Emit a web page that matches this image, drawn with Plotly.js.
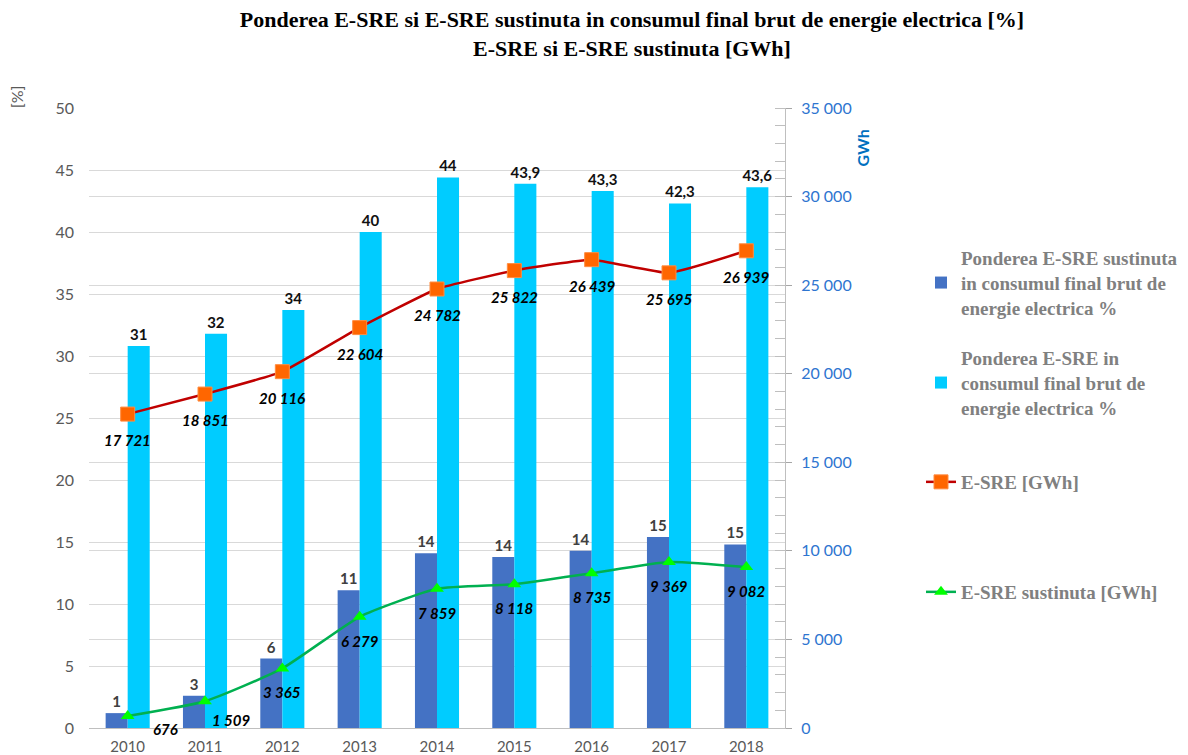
<!DOCTYPE html>
<html>
<head>
<meta charset="utf-8">
<script src="https://cdn.plot.ly/plotly-3.0.1.min.js"></script>
<style>html,body{margin:0;padding:0;background:#fff;}#chart{width:1188px;height:755px;}</style>
</head>
<body>
<div id="chart"></div>
<script>
const years = ['2010','2011','2012','2013','2014','2015','2016','2017','2018'];
const shareSupported = [1.2, 2.6, 5.6, 11.1, 14.1, 13.8, 14.3, 15.4, 14.8];
const shareTotal = [30.8, 31.8, 33.7, 40.0, 44.4, 43.9, 43.3, 42.3, 43.6];
const shareTotalLabels = ['31','32','34','40','44','43,9','43,3','42,3','43,6'];
const esreGWh = [17721, 18851, 20116, 22604, 24782, 25822, 26439, 25695, 26939];
const esreSupportedGWh = [676, 1509, 3365, 6279, 7859, 8118, 8735, 9369, 9082];

const fmt = v => String(v).replace(/\B(?=(\d{3})+(?!\d))/g, ' ');

const legFont = {family: 'Liberation Serif, Times New Roman, serif', size: 19, color: '#808080', weight: 'bold'};
const lineLblFont = {family: 'Lato, Calibri, sans-serif', size: 15, color: '#000', weight: 'bold', style: 'italic'};

const traces = [
  {
    type: 'bar', x: years, y: shareSupported, name: '<b>Ponderea E-SRE sustinuta<br>in consumul final brut de<br>energie electrica %</b>',
    marker: {color: '#4472C4'}, text: shareSupported.map(v => Math.round(v).toString()),
    textposition: 'outside', cliponaxis: false, constraintext: 'none',
    textfont: {family: 'Lato, Calibri, sans-serif', size: 15, color: '#404040', weight: 'bold'},
    legend: 'legend', hoverinfo: 'x+y'
  },
  {
    type: 'bar', x: years, y: shareTotal, name: '<b>Ponderea E-SRE in<br>consumul final brut de<br>energie electrica %</b>',
    marker: {color: '#00CCFF'}, text: shareTotalLabels,
    textposition: 'outside', cliponaxis: false, constraintext: 'none',
    textfont: {family: 'Lato, Calibri, sans-serif', size: 15, color: '#111', weight: 'bold'},
    legend: 'legend2', hoverinfo: 'x+y'
  },
  {
    type: 'scatter', mode: 'lines+markers', x: years, y: esreGWh, yaxis: 'y2',
    name: '<b>E-SRE [GWh]</b>',
    line: {color: '#C00000', width: 2.5, shape: 'spline', smoothing: 0.4},
    marker: {symbol: 'square', size: 14, color: '#FF6600', line: {color: '#FF8C40', width: 1}},
    cliponaxis: false, legend: 'legend3'
  },
  {
    type: 'scatter', mode: 'lines+markers', x: years, y: esreSupportedGWh, yaxis: 'y2',
    name: '<b>E-SRE sustinuta [GWh]</b>',
    line: {color: '#00B050', width: 2.5, shape: 'spline', smoothing: 0.5},
    marker: {symbol: 'triangle-up', size: 12, color: '#00FF00'},
    cliponaxis: false, legend: 'legend4'
  }
];

// data labels for the two GWh lines (category index on x, value on the y2 scale)
const supShiftX = [38, 26, 0, 0, 0, 0, 0, 0, 0];
const supShiftY = [-13, -19, -24, -24, -24, -24, -24, -24, -24];
const annotations = [];
years.forEach((yr, i) => {
  annotations.push({x: i, y: esreGWh[i], xref: 'x', yref: 'y2', text: fmt(esreGWh[i]),
    showarrow: false, yshift: -26, font: lineLblFont});
  annotations.push({x: i, y: esreSupportedGWh[i], xref: 'x', yref: 'y2', text: fmt(esreSupportedGWh[i]),
    showarrow: false, xshift: supShiftX[i], yshift: supShiftY[i], font: lineLblFont});
});
annotations.push(
  {text: '[%]', xref: 'paper', yref: 'paper', x: -0.103, y: 1.018, xanchor: 'center', yanchor: 'middle',
   textangle: -90, showarrow: false, font: {family: 'Lato, Calibri, sans-serif', size: 16, color: '#595959'}},
  {text: '<b>GWh</b>', xref: 'paper', yref: 'paper', x: 1.111, y: 0.935, xanchor: 'center', yanchor: 'middle',
   textangle: -90, showarrow: false, font: {family: 'Lato, Calibri, sans-serif', size: 16, color: '#0070C0'}}
);

const H = 755, W = 1188;
const legBase = {font: legFont, bgcolor: 'rgba(0,0,0,0)', xanchor: 'left', yanchor: 'middle', x: 921/W, xref: 'container', yref: 'container'};

const layout = {
  width: 1188, height: 755,
  margin: {l: 89, r: 403, t: 108, b: 27, autoexpand: false},
  paper_bgcolor: '#fff', plot_bgcolor: '#fff',
  separators: ', ',
  barmode: 'group', bargap: 0.43, bargroupgap: 0,
  title: {
    text: '<b>Ponderea E-SRE si E-SRE sustinuta in consumul final brut de energie electrica [%]<br>E-SRE si E-SRE sustinuta [GWh]</b>',
    font: {family: 'Liberation Serif, Times New Roman, serif', size: 22, color: '#000'},
    x: 632/W, xanchor: 'center', xref: 'container', y: 1 - 27/H, yanchor: 'middle', yref: 'container'
  },
  xaxis: {
    type: 'category', range: [-0.5, years.length - 0.5], autorange: false,
    showgrid: false, showline: true, linecolor: '#BFBFBF', linewidth: 1,
    ticks: '', ticklabelstandoff: 5, tickfont: {family: 'Lato, Calibri, sans-serif', size: 15, color: '#595959'},
    fixedrange: true
  },
  yaxis: {
    range: [0, 50], autorange: false, dtick: 5, tick0: 0, showgrid: true, gridcolor: '#D9D9D9', gridwidth: 1,
    zeroline: false, showline: false, ticks: '', ticklabelstandoff: 14,
    tickfont: {family: 'Lato, Calibri, sans-serif', size: 16, color: '#595959'},
    fixedrange: true
  },
  yaxis2: {
    overlaying: 'y', side: 'right', range: [0, 35000], autorange: false, dtick: 5000, tick0: 0,
    showgrid: true, gridcolor: '#D9D9D9', gridwidth: 1, zeroline: false,
    showline: true, linecolor: '#BFBFBF', linewidth: 1,
    ticks: 'outside', ticklen: 6, tickcolor: '#A6A6A6',
    exponentformat: 'none', separatethousands: true,
    minor: {dtick: 1000, ticks: 'inside', ticklen: 10, tickcolor: '#BFBFBF', showgrid: false},
    ticklabelstandoff: 6,
    tickfont: {family: 'Lato, Calibri, sans-serif', size: 16, color: '#2E75D0'},
    fixedrange: true
  },
  legend:  Object.assign({}, legBase, {y: 1 - 283/H}),
  legend2: Object.assign({}, legBase, {y: 1 - 383/H}),
  legend3: Object.assign({}, legBase, {y: 1 - 482/H}),
  legend4: Object.assign({}, legBase, {y: 1 - 592/H}),
  annotations: annotations,
  showlegend: true, hovermode: 'closest'
};

Plotly.newPlot('chart', traces, layout, {displayModeBar: false});
</script>
</body>
</html>
